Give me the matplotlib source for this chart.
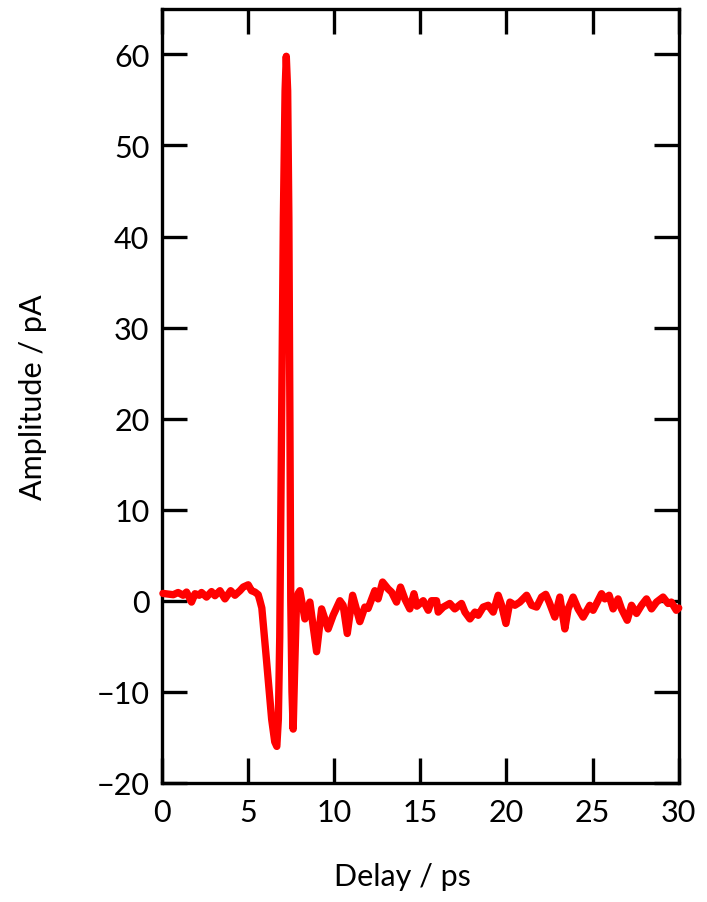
import matplotlib
matplotlib.use("Agg")
import matplotlib.pyplot as plt

# delay (ps) and amplitude (pA)
delay = [0.06, 0.66, 0.94, 1.23, 1.43, 1.72, 1.92, 2.17, 2.30, 2.59, 2.88, 3.08,
         3.37, 3.66, 3.99, 4.24, 4.53, 4.72, 5.01, 5.20, 5.40, 5.59, 5.69,
         5.80, 6.07, 6.37, 6.55, 6.67, 6.76, 6.84, 6.95, 7.05, 7.15, 7.22,
         7.30, 7.37, 7.43, 7.48, 7.55, 7.62, 7.70, 7.80, 7.91, 8.01,
         8.30, 8.59, 8.98, 9.27, 9.65, 9.94, 10.33, 10.52, 10.76, 11.07,
         11.49, 11.78, 11.97, 12.36, 12.55, 12.81, 13.13, 13.33, 13.62, 13.85,
         14.10, 14.39, 14.63, 14.80, 15.17, 15.46, 15.65, 15.94, 16.04, 16.33,
         16.71, 17.00, 17.39, 17.59, 17.88, 18.17, 18.36, 18.65, 18.94, 19.23,
         19.52, 19.72, 19.97, 20.20, 20.49, 20.78, 21.17, 21.46, 21.75, 22.04,
         22.28, 22.48, 22.81, 23.10, 23.39, 23.58, 23.87, 24.16, 24.45, 24.84,
         25.03, 25.52, 25.71, 25.96, 26.19, 26.48, 26.68, 27.01, 27.26, 27.55,
         27.84, 28.13, 28.42, 28.71, 29.09, 29.38, 29.57, 29.86, 30.0]
amplitude = [0.8, 0.66, 0.9, 0.6, 0.95, -0.15, 0.77, 0.6, 0.9, 0.4, 1.0, 0.55,
             1.1, 0.2, 1.1, 0.6, 1.1, 1.5, 1.75, 1.1, 0.95, 0.66, 0.0,
             -0.8, -6.5, -13.0, -15.5, -16.0, -13.0, -4.0, 20.0, 42.0, 56.0, 59.8,
             56.0, 42.0, 20.0, 0.0, -10.0, -14.1, -8.0, -1.0, 0.8, 1.1,
             -2.0, -0.15, -5.6, -0.9, -3.1, -1.6, 0.0, -0.5, -3.6, 0.6,
             -2.3, -0.7, -0.85, 1.1, 0.2, 2.05, 1.3, 0.95, -0.15, 1.5,
             0.2, -0.9, 0.77, -0.6, 0.0, -1.05, 0.0, 0.0, -1.25, -0.7,
             -0.3, -0.9, -0.3, -1.25, -2.0, -1.25, -1.6, -0.7, -0.5, -1.25,
             0.6, -0.5, -2.5, -0.15, -0.5, -0.15, 0.6, -0.5, -0.7, 0.4,
             0.7, -0.15, -1.8, 0.4, -3.1, -0.9, 0.4, -0.9, -1.8, -0.5,
             -1.05, 0.77, 0.2, 0.6, -0.9, 0.2, -0.9, -2.15, -0.5, -1.4,
             -0.5, 0.2, -0.9, -0.15, 0.4, -0.3, -0.15, -1.05, -0.8]

xticks = [0, 5, 10, 15, 20, 25, 30]
yticks = [-20, -10, 0, 10, 20, 30, 40, 50, 60]

plt.rcParams['font.family'] = ['Lato', 'DejaVu Sans']

fig = plt.figure(figsize=(7.07, 9.03), dpi=100)
ax = fig.add_axes([0.229, 0.132, 0.731, 0.857])

ax.plot(delay, amplitude, color='#ff0000', lw=5.3, solid_joinstyle='round',
        solid_capstyle='round', clip_on=False, zorder=3)

ax.set_xlim(0, 30)
ax.set_ylim(-20, 65)
ax.set_xticks(xticks)
ax.set_yticks(yticks)
ax.set_yticklabels([str(t).replace('-', '\u2212') for t in yticks])

for s in ax.spines.values():
    s.set_linewidth(2.4)
ax.tick_params(direction='in', length=18, width=2.4, labelsize=22,
               top=True, right=True)
ax.tick_params(axis='x', pad=11)
ax.tick_params(axis='y', pad=9)

ax.set_xlabel('Delay / ps', fontsize=22)
ax.set_ylabel('Amplitude / pA', fontsize=22)
ax.xaxis.set_label_coords(0.465, -0.102)
ax.yaxis.set_label_coords(-0.222, 0.5)

fig.savefig('out.png', dpi=100)
